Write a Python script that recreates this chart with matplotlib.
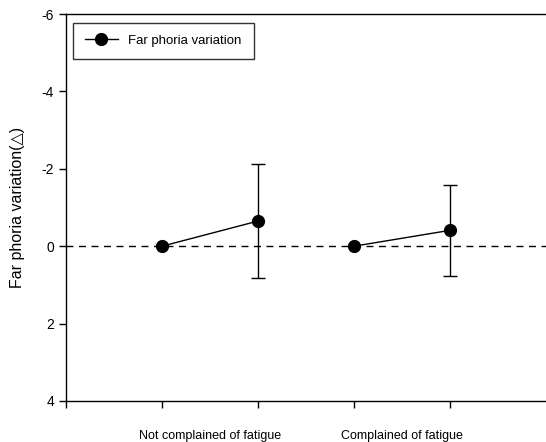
import matplotlib
matplotlib.use("Agg")
import matplotlib.pyplot as plt

plt.rcParams['font.family'] = ['Liberation Sans', 'DejaVu Sans']

# Data
x_pos = [1, 2, 3, 4]
groups = ["Not complained of fatigue", "Complained of fatigue"]
means = [0.0, -0.65, 0.0, -0.41]
errs = [0.0, 1.48, 0.0, 1.17]

fig = plt.figure(figsize=(5.46, 4.42), dpi=100)
ax = fig.add_axes([66/546, 41/442, 480/546, 387/442])

ax.axhline(0, color="black", lw=1, ls=(0, (5, 4)), zorder=1)

for i in (0, 2):
    xs = x_pos[i:i+2]
    ys = means[i:i+2]
    ax.plot(xs, ys, "o-", color="black", ms=8.5, lw=1,
            label="Far phoria variation" if i == 0 else None, zorder=3)

for x, m, e in zip(x_pos, means, errs):
    if e > 0:
        ax.errorbar(x, m, yerr=e, fmt="none", ecolor="black", elinewidth=1,
                    capsize=5, capthick=1, zorder=2)

ax.set_xlim(0, 5)
ax.set_ylim(4, -6)
ax.set_yticks([-6, -4, -2, 0, 2, 4])
ax.set_yticklabels(["-6", "-4", "-2", "0", "2", "4"], fontsize=10)
ax.set_xticks([0, 1, 2, 3, 4])
ax.set_xticklabels([])
ax.set_xticks([1.5, 3.5], minor=True)
ax.set_xticklabels(groups, minor=True, fontsize=9)
ax.tick_params(axis="x", which="minor", length=0, pad=21)
ax.tick_params(axis="both", which="major", direction="out", length=5, width=1)

ax.spines["right"].set_visible(False)
for s in ("left", "top", "bottom"):
    ax.spines[s].set_linewidth(1)

ax.set_ylabel("Far phoria variation(\u25b3)", fontsize=11.5, labelpad=12)

leg = ax.legend(loc="upper left", fontsize=9.5, frameon=True, fancybox=False,
                edgecolor="black", borderpad=0.9, handlelength=2.5,
                borderaxespad=0, bbox_to_anchor=(0.0146, 0.977))
leg.get_frame().set_linewidth(1)

fig.savefig("out.png", dpi=100)
